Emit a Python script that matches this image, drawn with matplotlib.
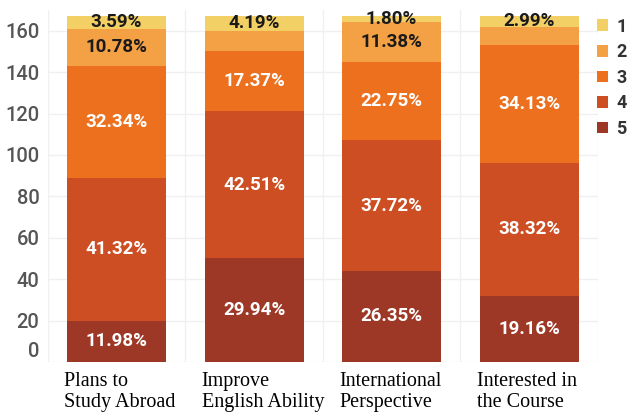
import matplotlib
matplotlib.use("Agg")
import matplotlib.pyplot as plt
import matplotlib.transforms as mtransforms
from matplotlib.patches import Patch
import numpy as np

# 数据：每个类别各评分等级的人数（总数 167）
categories = ["Plans to\nStudy Abroad", "Improve\nEnglish Ability",
              "International\nPerspective", "Interested in\nthe Course"]
levels = ["5", "4", "3", "2", "1"]
score_5 = [20, 50, 44, 32]
score_4 = [69, 71, 63, 64]
score_3 = [54, 29, 38, 57]
score_2 = [18, 10, 19, 9]
score_1 = [6, 7, 3, 5]
# 不显示百分比标签的段 (level, category index)
hidden_labels = {("2", 1), ("2", 3)}

colors = {"5": "#9E3826", "4": "#CC4E22", "3": "#EC701E",
          "2": "#F4A044", "1": "#F2D066"}
text_colors = {"5": "white", "4": "white", "3": "white",
               "2": "#1a1a1a", "1": "#1a1a1a"}

series = {"5": score_5, "4": score_4, "3": score_3, "2": score_2, "1": score_1}

fig = plt.figure(figsize=(6.28, 4.18), dpi=100)
ax = fig.add_axes([0.076, 0.134, 0.876, 0.842])

x = np.arange(len(categories))
totals = np.sum([series[k] for k in levels], axis=0)
bottom = np.zeros(len(categories))
label_font = dict(family=["Roboto", "DejaVu Sans"], weight="bold", fontsize=13.5)

for lv in levels:
    vals = np.array(series[lv], dtype=float)
    ax.bar(x, vals, bottom=bottom, width=0.72, color=colors[lv], zorder=2)
    for i, v in enumerate(vals):
        if (lv, i) in hidden_labels:
            continue
        pct = v / totals[i] * 100
        ax.text(x[i], bottom[i] + v / 2, f"{pct:.2f}%", ha="center", va="center",
                color=text_colors[lv], zorder=3, **label_font)
    bottom += vals

ax.set_xlim(-0.5, len(categories) - 0.5)
ax.set_ylim(0, 170)
ax.set_yticks(np.arange(0, 161, 20))
ax.tick_params(axis="y", length=0, labelsize=14.5, labelcolor="#555555", pad=6)
for lab in ax.get_yticklabels():
    lab.set_family(["Roboto", "DejaVu Sans"])
    lab.set_weight("medium")
# “0” 标签略微上移
zero = ax.get_yticklabels()[0]
zero.set_transform(zero.get_transform() +
                   mtransforms.ScaledTranslation(0, 12 / 100, fig.dpi_scale_trans))

ax.set_xticks([])
for s in ax.spines.values():
    s.set_visible(False)
ax.grid(axis="y", color="#f0f0f0", linewidth=1, zorder=0)
for b in np.arange(-0.5, len(categories), 1.0):
    ax.axvline(b, color="#f0f0f0", linewidth=1, zorder=0)

# 类别标签（衬线字体，左对齐）
for i, c in enumerate(categories):
    ax.text(x[i] - 0.38, -5, c, ha="left", va="top", fontsize=14.5,
            family=["Liberation Serif", "DejaVu Serif"], color="black",
            linespacing=1.15)

handles = [Patch(facecolor=colors[k]) for k in ["1", "2", "3", "4", "5"]]
leg = fig.legend(handles, ["1", "2", "3", "4", "5"], loc="upper left",
                 bbox_to_anchor=(0.951, 0.958), frameon=False,
                 borderpad=0, borderaxespad=0,
                 handlelength=0.6, handleheight=0.6, handletextpad=0.45,
                 labelspacing=0.42, prop={"family": ["Roboto", "DejaVu Sans"],
                                          "weight": "bold", "size": 13})
for t in leg.get_texts():
    t.set_color("#333333")

fig.savefig("out.png", dpi=100)
